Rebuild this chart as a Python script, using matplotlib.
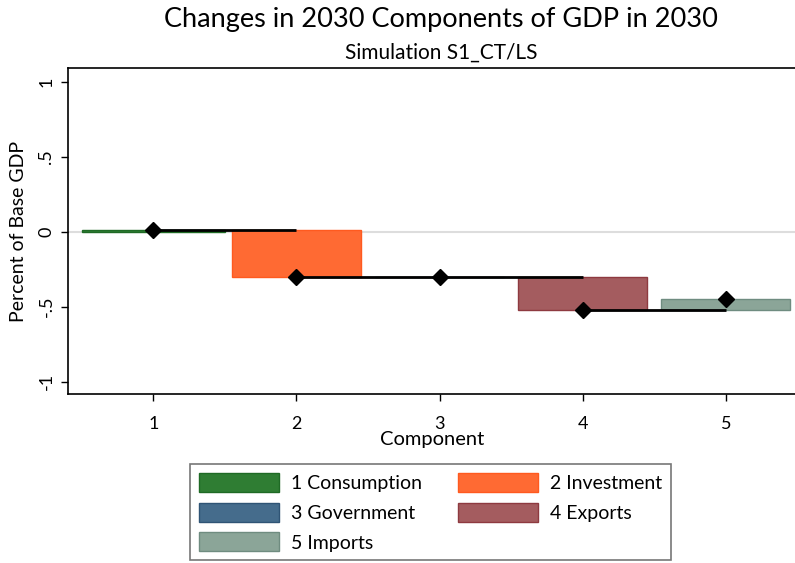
import numpy as np
import matplotlib.pyplot as plt
from matplotlib.patches import Patch

plt.rcParams['font.family'] = ['Lato', 'DejaVu Sans']

# contribution of each GDP component (percent of base GDP)
components = [1, 2, 3, 4, 5]
labels = ["1 Consumption", "2 Investment", "3 Government", "4 Exports", "5 Imports"]
changes = [0.01, -0.31, 0.0, -0.224, 0.073]

colors = ["#2f7d33", "#ff6a33", "#456c8c", "#a45c5f", "#8ba598"]
edges = ["#1f6a25", "#ff5a1f", "#2f5475", "#8e3a40", "#6f8c80"]

cum = np.cumsum(changes)
start = np.concatenate([[0.0], cum[:-1]])

fig = plt.figure(figsize=(7.95, 5.63), dpi=100)
ax = fig.add_axes([0.0859, 0.3002, 0.9141, 0.5785])

ax.axhline(0, color="#dddddd", lw=1.5, zorder=0)

widths = [1.0, 0.9, 0.9, 0.9, 0.9]
ax.bar(components, cum - start, bottom=start, width=widths,
       color=colors, edgecolor=edges, linewidth=1, zorder=2)

# running total carried to the next component
for i in range(len(components) - 1):
    ax.plot([components[i], components[i + 1]], [cum[i], cum[i]],
            color="black", lw=2, zorder=3, solid_capstyle="butt")
ax.plot(components, cum, linestyle="none", marker="D", markersize=8,
        color="black", zorder=4)

ax.set_xlim(0.406, 5.484)
ax.set_ylim(-1.082, 1.089)
ax.set_xticks(components)
ax.set_xticklabels([str(c) for c in components], fontsize=13)
ax.set_yticks([1, 0.5, 0, -0.5, -1])
ax.set_yticklabels(["1", ".5", "0", "-.5", "-1"], fontsize=13,
                   rotation=90, va="center")
ax.tick_params(length=5, width=1, color="black")
ax.tick_params(axis="x", pad=11)
ax.tick_params(axis="y", pad=5)
ax.spines["right"].set_visible(False)
for s in ["left", "top", "bottom"]:
    ax.spines[s].set_linewidth(1.2)

ax.set_xlabel("Component", fontsize=14.5, labelpad=-1)
ax.set_ylabel("Percent of Base GDP", fontsize=14, labelpad=8)

fig.text(0.555, 0.965, "Changes in 2030 Components of GDP in 2030",
         ha="center", va="center", fontsize=19.5)
fig.text(0.555, 0.906, "Simulation S1_CT/LS", ha="center", va="center",
         fontsize=15)

handles = [Patch(facecolor=c, edgecolor=e, lw=1) for c, e in zip(colors, edges)]
order = [0, 2, 4, 1, 3]
leg = fig.legend([handles[i] for i in order], [labels[i] for i in order],
                 ncol=2, loc="upper left", bbox_to_anchor=(0.239, 0.1758),
                 borderaxespad=0, fontsize=14, frameon=True, fancybox=False,
                 handlelength=4.12, handleheight=1.13, handletextpad=0.62,
                 columnspacing=1.85, labelspacing=0.55, borderpad=0.45)
leg.get_frame().set_edgecolor("#555555")
leg.get_frame().set_linewidth(1.2)

fig.savefig("out.png", dpi=100)
